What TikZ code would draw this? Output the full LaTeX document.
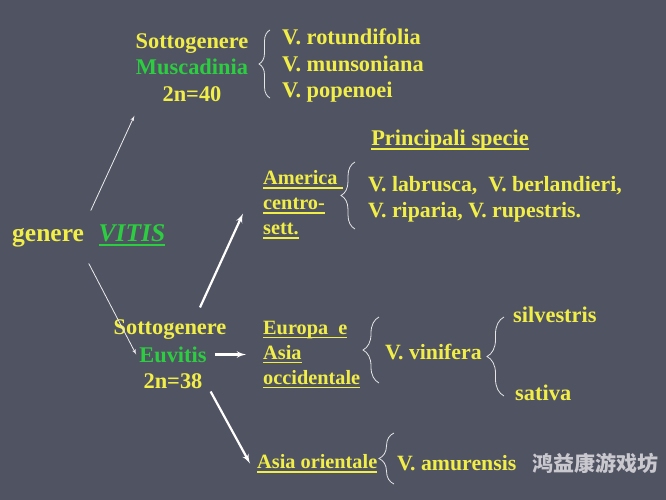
\documentclass[tikz,border=0pt]{standalone}
\usepackage{fontspec}
\setmainfont{Liberation Serif}
\newfontfamily\cjk{Noto Sans CJK SC}
\usepackage{tikz}
\usetikzlibrary{arrows,decorations.pathreplacing}
\definecolor{slide}{RGB}{80,83,98}
\definecolor{lemon}{RGB}{242,238,72}
\definecolor{leaf}{RGB}{45,205,65}
\definecolor{mark}{RGB}{200,200,206}
\newcommand{\ulined}[1]{\setbox0\hbox{#1}\leavevmode\rlap{\rule[-4pt]{\wd0}{1.6pt}}\box0}
\tikzstyle{big}=[text=lemon,font=\bfseries\fontsize{22.4}{26.5}\selectfont,inner sep=3pt]
\tikzstyle{mid}=[text=lemon,font=\bfseries\fontsize{20.3}{25}\selectfont,inner sep=3pt]
\tikzstyle{thinarrow} = [draw=white!85!gray, line width=0.8pt, -latex']
\tikzstyle{thickarrow} = [draw=white, line width=2.2pt, -latex']
\tikzstyle{curly} = [draw=white!80!gray, line width=0.8pt, decorate]

\begin{document}
\begin{tikzpicture}[x=1pt,y=-1pt]
  \useasboundingbox (0,0) rectangle (666,500);
  \fill[slide] (0,0) rectangle (666,500);
  % genus
  \node[big,anchor=west,font=\bfseries\fontsize{25.5}{28}\selectfont] (genere) at (9,236)
    {genere~~\hspace{2pt}\textcolor{leaf}{\ulined{\itshape VITIS}}};
  % Muscadinia
  \node[big,align=center] (musc) at (192,67.5) {Sottogenere\\\textcolor{leaf}{Muscadinia}\\2n=40};
  \node[big,anchor=west,align=left] (muslist) at (279,65.5) {V. rotundifolia\\V. munsoniana\\V. popenoei};
  % headers
  \node[big] (prin) at (450,140.5) {\ulined{Principali specie}};
  % Euvitis
  \node[big] (sg2) at (170,329.5) {Sottogenere};
  \node[big,text=leaf] (euv) at (173,354.5) {Euvitis};
  \node[big] (n38) at (173,381.5) {2n=38};
  % regions
  \node[mid,anchor=west,align=left] (am) at (260,204.5) {\ulined{America~}\\\ulined{centro-}\\\ulined{sett.}};
  \node[mid,anchor=west,align=left] (eur) at (260,354.5) {\ulined{Europa~~e}\\\ulined{Asia}\\\ulined{occidentale}};
  \node[mid,anchor=west] (ori) at (254,463.5) {\ulined{Asia orientale}};
  % species
  \node[big,anchor=west,align=left,font=\bfseries\fontsize{21.8}{26}\selectfont] (amlist) at (365,199.5)
    {V. labrusca,~~V. berlandieri,\\V. riparia, V. rupestris.};
  \node[big,anchor=west,font=\bfseries\fontsize{21.8}{26}\selectfont] (vin) at (382,351.5) {V. vinifera};
  \node[big,anchor=west] (silv) at (510,314.5) {silvestris};
  \node[big,anchor=west] (sat) at (512,392.5) {sativa};
  \node[big,anchor=west,font=\bfseries\fontsize{21.8}{26}\selectfont] (amur) at (394,463.5) {V. amurensis};
  \node[anchor=west,text=mark,font=\cjk\bfseries\fontsize{21}{24}\selectfont] (wm) at (529,463) {鸿益康游戏坊};
  % braces
  \draw[curly,decoration={brace,amplitude=11pt}] (270,98) -- (270,30);
  \draw[curly,decoration={brace,amplitude=14pt}] (355,229) -- (355,162);
  \draw[curly,decoration={brace,amplitude=16pt}] (379,383) -- (379,317);
  \draw[curly,decoration={brace,amplitude=17pt}] (504,396) -- (504,317);
  \draw[curly,decoration={brace,amplitude=15pt}] (394,484) -- (394,433);
  % arrows
  \path[thinarrow] ([xshift=2pt,yshift=11pt]genere.north) -- ([xshift=2pt,yshift=-11pt]musc.south west);
  \path[thinarrow] ([yshift=-13pt]genere.south) -- (euv.west);
  \path[thickarrow] ([xshift=30pt,yshift=9pt]sg2.north) -- ([xshift=-17pt,yshift=-9pt]am.west);
  \path[thickarrow,shorten <=5pt,shorten >=14pt] (euv.east) -- (eur.west);
  \path[thickarrow] ([xshift=5pt,yshift=-10pt]n38.east) -- ([xshift=-4pt]ori.west);
\end{tikzpicture}
\end{document}
